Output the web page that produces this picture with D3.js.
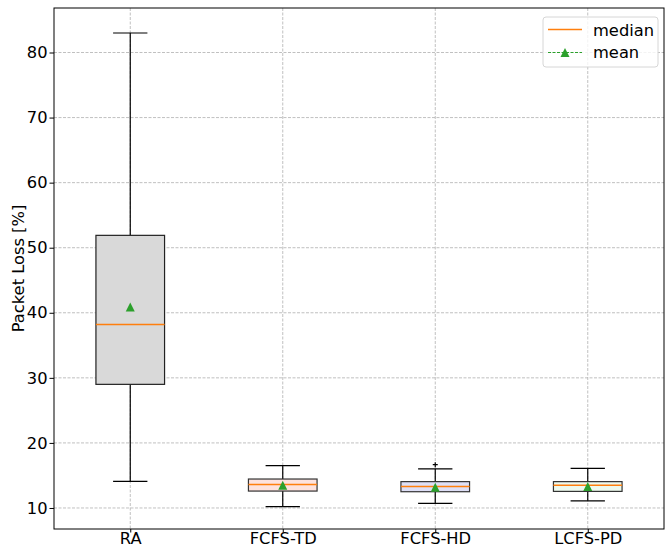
<!DOCTYPE html>
<html>
<head>
<meta charset="utf-8">
<script src="https://cdn.jsdelivr.net/npm/d3@7"></script>
<style>
    body { margin: 0; background: #fff; }
    text { font-family: "DejaVu Sans", sans-serif; }
</style>
</head>
<body>
<div id="chart"></div>
<script>
// box plot values
const categories = ['RA', 'FCFS-TD', 'FCFS-HD', 'LCFS-PD'];
const whiskerLow = [14.1, 10.2, 10.7, 11.1];
const q1 = [29.0, 12.6, 12.5, 12.55];
const median = [38.2, 13.6, 13.3, 13.5];
const q3 = [51.9, 14.45, 14.05, 14.05];
const whiskerHigh = [83.0, 16.5, 16.0, 16.1];
const means = [40.9, 13.5, 13.2, 13.3];
const fliers = [[], [], [16.65], []];
const yTicks = [10, 20, 30, 40, 50, 60, 70, 80];

const fills = ['#d9d9d9', '#fde2de', '#dedff6', '#eefaee'];
const edges = ['#222', '#333', '#333', '#333'];

const width = 665, height = 548;
const margin = { top: 8, right: 1, bottom: 19, left: 54 };
const fontSize = 16.3;

const svg = d3.select('#chart')
    .append('svg')
    .attr('width', width)
    .attr('height', height);

const x = d3.scaleLinear()
    .domain([0.5, 4.5])
    .range([margin.left, width - margin.right]);

const y = d3.scaleLinear()
    .domain([6.77, 86.84])
    .range([height - margin.bottom, margin.top]);

const boxW = x(1.45) - x(1);
const capW = boxW / 2;

// matplotlib-like '^' marker, centred on its bounding box
const triangle = s => `M0,${-s / 2}L${s / 2},${s / 2}L${-s / 2},${s / 2}Z`;

// grid
const grid = svg.append('g');
grid.selectAll('.hgrid')
    .data(yTicks)
    .enter().append('line')
    .attr('x1', margin.left).attr('x2', width - margin.right)
    .attr('y1', d => y(d)).attr('y2', d => y(d))
    .attr('stroke', '#b0b0b0').attr('stroke-width', 0.8)
    .attr('stroke-dasharray', '3,1.5');
grid.selectAll('.vgrid')
    .data(categories)
    .enter().append('line')
    .attr('x1', (d, i) => x(i + 1)).attr('x2', (d, i) => x(i + 1))
    .attr('y1', margin.top).attr('y2', height - margin.bottom)
    .attr('stroke', '#b0b0b0').attr('stroke-width', 0.8)
    .attr('stroke-dasharray', '3,1.5');

// boxes
const data = categories.map((c, i) => ({
    name: c, pos: i + 1, lo: whiskerLow[i], q1: q1[i], med: median[i],
    q3: q3[i], hi: whiskerHigh[i], mean: means[i], fliers: fliers[i],
    fill: fills[i], edge: edges[i]
}));

const boxes = svg.append('g').selectAll('g')
    .data(data)
    .enter().append('g');

// whiskers
boxes.append('line')
    .attr('x1', d => x(d.pos)).attr('x2', d => x(d.pos))
    .attr('y1', d => y(d.q3)).attr('y2', d => y(d.hi))
    .attr('stroke', '#000').attr('stroke-width', 1.2);
boxes.append('line')
    .attr('x1', d => x(d.pos)).attr('x2', d => x(d.pos))
    .attr('y1', d => y(d.q1)).attr('y2', d => y(d.lo))
    .attr('stroke', '#000').attr('stroke-width', 1.2);
// caps
boxes.append('line')
    .attr('x1', d => x(d.pos) - capW / 2).attr('x2', d => x(d.pos) + capW / 2)
    .attr('y1', d => y(d.hi)).attr('y2', d => y(d.hi))
    .attr('stroke', '#000').attr('stroke-width', 1.2);
boxes.append('line')
    .attr('x1', d => x(d.pos) - capW / 2).attr('x2', d => x(d.pos) + capW / 2)
    .attr('y1', d => y(d.lo)).attr('y2', d => y(d.lo))
    .attr('stroke', '#000').attr('stroke-width', 1.2);
// box
boxes.append('rect')
    .attr('x', d => x(d.pos) - boxW / 2)
    .attr('width', boxW)
    .attr('y', d => y(d.q3))
    .attr('height', d => y(d.q1) - y(d.q3))
    .attr('fill', d => d.fill)
    .attr('stroke', d => d.edge)
    .attr('stroke-width', 1.2);
// median
boxes.append('line')
    .attr('x1', d => x(d.pos) - boxW / 2).attr('x2', d => x(d.pos) + boxW / 2)
    .attr('y1', d => y(d.med)).attr('y2', d => y(d.med))
    .attr('stroke', '#ff7f0e').attr('stroke-width', 1.5);

// mean
boxes.append('path')
    .attr('d', triangle(9))
    .attr('transform', d => `translate(${x(d.pos)},${y(d.mean)})`)
    .attr('fill', '#2ca02c');
// fliers
boxes.selectAll('.flier')
    .data(d => d.fliers.map(v => ({ pos: d.pos, v })))
    .enter().append('path')
    .attr('d', 'M-2.5,0H2.5M0,-2.5V2.5')
    .attr('transform', d => `translate(${x(d.pos)},${y(d.v)})`)
    .attr('stroke', '#000').attr('stroke-width', 1.2);

// axes
const yAxis = d3.axisLeft(y).tickValues(yTicks).tickSize(4.5).tickPadding(2);
const gy = svg.append('g')
    .attr('transform', `translate(${margin.left},0)`)
    .call(yAxis);
gy.select('.domain').remove();
gy.selectAll('text').attr('font-size', fontSize).attr('fill', '#000')
    .attr('font-family', 'DejaVu Sans');

const xAxis = d3.axisBottom(x).tickValues([1, 2, 3, 4])
    .tickFormat(d => categories[d - 1]).tickSize(3.5).tickPadding(0);
const gx = svg.append('g')
    .attr('transform', `translate(0,${height - margin.bottom})`)
    .call(xAxis);
gx.select('.domain').remove();
gx.selectAll('text').attr('font-size', fontSize).attr('fill', '#000')
    .attr('font-family', 'DejaVu Sans');

// frame
svg.append('rect')
    .attr('x', margin.left).attr('y', margin.top)
    .attr('width', width - margin.right - margin.left)
    .attr('height', height - margin.bottom - margin.top)
    .attr('fill', 'none').attr('stroke', '#000').attr('stroke-width', 1);

svg.append('text')
    .attr('transform', `translate(23.5,${(margin.top + height - margin.bottom) / 2}) rotate(-90)`)
    .attr('text-anchor', 'middle')
    .attr('font-size', fontSize)
    .text('Packet Loss [%]');

// legend
const lg = svg.append('g').attr('transform', 'translate(543,17)');
lg.append('rect')
    .attr('width', 115).attr('height', 50).attr('rx', 3)
    .attr('fill', '#fff').attr('fill-opacity', 0.8)
    .attr('stroke', '#d6d6d6');
lg.append('line')
    .attr('x1', 5).attr('x2', 39).attr('y1', 12.5).attr('y2', 12.5)
    .attr('stroke', '#ff7f0e').attr('stroke-width', 1.5);
lg.append('text').attr('x', 50).attr('y', 19).attr('font-size', fontSize).text('median');
lg.append('line')
    .attr('x1', 5).attr('x2', 39).attr('y1', 35.5).attr('y2', 35.5)
    .attr('stroke', '#2ca02c').attr('stroke-width', 1)
    .attr('stroke-dasharray', '3,1.5');
lg.append('path')
    .attr('d', triangle(9))
    .attr('transform', 'translate(22,35.5)')
    .attr('fill', '#2ca02c');
lg.append('text').attr('x', 50).attr('y', 41).attr('font-size', fontSize).text('mean');
</script>
</body>
</html>
